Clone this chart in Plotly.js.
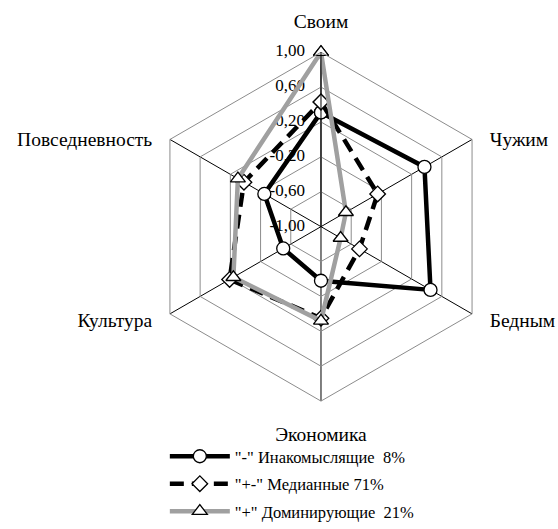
<!DOCTYPE html>
<html>
<head>
<meta charset="utf-8">
<script src="https://cdn.plot.ly/plotly-3.0.1.min.js"></script>
<style>html,body{margin:0;padding:0;background:#fff}#chart{width:558px;height:529px}</style>
</head>
<body>
<div id="chart"></div>
<script>
const categories = ["Своим", "Чужим", "Бедным", "Экономика", "Культура", "Повседневность"];
const seriesNames = ['"-" Инакомыслящие  8%', '"+-" Медианные 71%', '"+" Доминирующие  21%'];
const dissenters = [0.31, 0.37, 0.45, -0.38, -0.50, -0.25];
const median = [0.43, -0.25, -0.49, 0.05, 0.21, 0.02];
const dominant = [1.00, -0.67, -0.74, 0.08, 0.16, 0.10];
const tickVals = [-1, -0.6, -0.2, 0.2, 0.6, 1];
const tickText = ["-1,00", "-0,60", "-0,20", "0,20", "0,60", "1,00"];
const axisMin = -1;
const axisMax = 1;

const FONT = "Liberation Serif, Times New Roman, serif";
// Plotly's linear (polygon) grid hides markers when the radial range starts below zero
// (and exactly on its inner edge), so the radial axis is expressed as distance from
// its minimum (plus a negligible epsilon) and relabelled.
const EPS = 1e-6;
function toRadial(a) { return a.map(v => v - axisMin + EPS); }
function closed(a) { return a.concat([a[0]]); }
const theta = closed(categories);

// category labels: side labels get blank lines so they sit level with their spoke
const blank = "&nbsp;<br>&nbsp;";
const categoryLabels = categories.map((c, i) => {
  if (i === 1 || i === 5) return blank + "<br>" + c;
  if (i === 2 || i === 4) return c + "<br>" + blank;
  return c;
});

const traces = [
  {
    // radial tick labels, placed on the first spoke by the polar scale
    type: "scatterpolar", mode: "markers+text", showlegend: false, hoverinfo: "skip",
    r: toRadial(tickVals), theta: tickVals.map(() => categories[0]),
    text: tickText, textposition: "middle left",
    textfont: {family: FONT, size: 17, color: "#000"},
    marker: {size: 24, color: "rgba(0,0,0,0)", line: {width: 0}},
    cliponaxis: false
  },
  {
    type: "scatterpolar", mode: "lines+markers", name: seriesNames[0], legendgroup: "g1",
    r: closed(toRadial(dissenters)), theta: theta,
    line: {color: "#000", width: 4.5},
    marker: {symbol: "circle", size: 13, color: "#ffffff", line: {color: "#000", width: 1.3}}
  },
  {
    type: "scatterpolar", mode: "lines+markers", name: seriesNames[1], legendgroup: "g2",
    r: closed(toRadial(median)), theta: theta,
    line: {color: "#000", width: 4.5, dash: "14px,8px"},
    marker: {symbol: "diamond", size: 12, color: "#ffffff", line: {color: "#000", width: 1.3}}
  },
  {
    type: "scatterpolar", mode: "lines+markers", name: seriesNames[2], legendgroup: "g3",
    r: closed(toRadial(dominant)), theta: theta, cliponaxis: false,
    line: {color: "#a0a0a0", width: 4.5},
    marker: {symbol: "triangle-up", size: 13, color: "#ffffff", line: {color: "#000", width: 1.3}}
  }
];

const layout = {
  width: 558, height: 529,
  margin: {l: 0, r: 0, t: 0, b: 0},
  paper_bgcolor: "#fff",
  font: {family: FONT, size: 16, color: "#000"},
  showlegend: true,
  legend: {
    x: 0.2954, y: 0.1337, xanchor: "left", yanchor: "top",
    itemwidth: 60, tracegroupgap: 3,
    font: {family: FONT, size: 16.5, color: "#000"},
    bgcolor: "rgba(0,0,0,0)"
  },
  polar: {
    domain: {x: [0.2491, 0.9014], y: [0.2089, 0.8970]},
    bgcolor: "#fff",
    gridshape: "linear",
    radialaxis: {
      range: [0, axisMax - axisMin + 2 * EPS], tickvals: toRadial(tickVals),
      showticklabels: false, ticks: "",
      angle: 90,
      showline: true, linecolor: "#000", linewidth: 1,
      gridcolor: "#8c8c8c", gridwidth: 1
    },
    angularaxis: {
      type: "category", categoryarray: categories,
      tickmode: "array", tickvals: categories, ticktext: categoryLabels,
      direction: "clockwise", rotation: 90,
      showline: true, linecolor: "#8c8c8c", linewidth: 1,
      gridcolor: "#000", gridwidth: 1,
      ticks: "outside", ticklen: 16, tickcolor: "rgba(0,0,0,0)",
      tickfont: {family: FONT, size: 19.5, color: "#000"}
    }
  }
};

Plotly.newPlot("chart", traces, layout, {displayModeBar: false, staticPlot: true});
</script>
</body>
</html>
